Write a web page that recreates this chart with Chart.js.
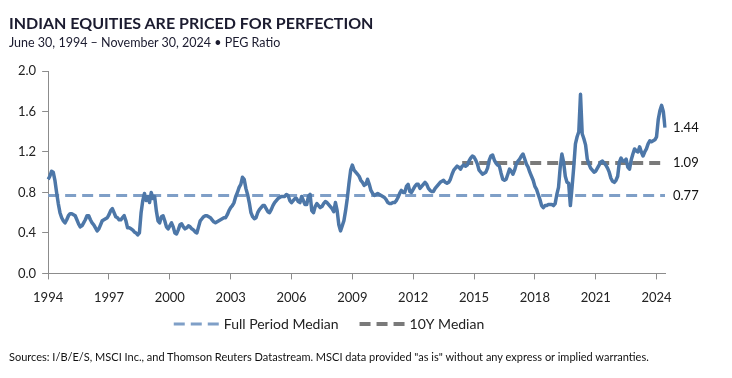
<!DOCTYPE html>
<html>
<head>
<meta charset="utf-8">
<script src="https://cdn.jsdelivr.net/npm/chart.js@4.4.1/dist/chart.umd.min.js"></script>
<style>
  body { margin: 0; background: #fff; width: 732px; height: 378px; overflow: hidden; position: relative; font-family: Lato, sans-serif; }
  #title { position: absolute; left: 9px; top: 13px; font-size: 16px; font-weight: bold; color: #1b1b2f; }
  #subtitle { position: absolute; left: 9px; top: 35px; font-size: 12.5px; color: #1b1b2f; }
  #source { position: absolute; left: 9px; top: 350px; font-size: 11px; color: #111; }
  #wrap { position: absolute; left: 0; top: 0; width: 732px; height: 378px; }
</style>
</head>
<body>
<div id="wrap"><canvas id="pegChart"></canvas></div>
<div id="title">INDIAN EQUITIES ARE PRICED FOR PERFECTION</div>
<div id="subtitle">June 30, 1994 – November 30, 2024 • PEG Ratio</div>
<div id="source">Sources: I/B/E/S, MSCI Inc., and Thomson Reuters Datastream. MSCI data provided "as is" without any express or implied warranties.</div>
<script>
// monthly PEG ratio, Jun 1994 .. Nov 2024
var pegValues = [
  0.93, 0.96, 1.01, 1.00, 0.92, 0.80, 0.69,                          // 1994 Jun-Dec
  0.60, 0.55, 0.52, 0.50, 0.53, 0.57, 0.59, 0.59, 0.58, 0.57, 0.53, 0.49, // 1995
  0.46, 0.47, 0.50, 0.53, 0.57, 0.57, 0.53, 0.50, 0.48, 0.45, 0.42, 0.44, // 1996
  0.48, 0.52, 0.53, 0.54, 0.55, 0.58, 0.62, 0.64, 0.60, 0.56, 0.55, 0.53, // 1997
  0.53, 0.55, 0.57, 0.52, 0.45, 0.45, 0.44, 0.43, 0.41, 0.40, 0.38, 0.40, // 1998
  0.60, 0.72, 0.79, 0.72, 0.76, 0.70, 0.80, 0.74, 0.76, 0.62, 0.52, 0.50, // 1999
  0.56, 0.57, 0.52, 0.46, 0.44, 0.47, 0.50, 0.46, 0.40, 0.39, 0.43, 0.48, // 2000
  0.49, 0.46, 0.44, 0.45, 0.47, 0.46, 0.44, 0.43, 0.41, 0.40, 0.46, 0.52, // 2001
  0.54, 0.56, 0.57, 0.57, 0.56, 0.55, 0.53, 0.51, 0.50, 0.51, 0.52, 0.53, // 2002
  0.54, 0.55, 0.55, 0.58, 0.62, 0.65, 0.67, 0.70, 0.76, 0.80, 0.85, 0.88, // 2003
  0.95, 0.93, 0.84, 0.78, 0.70, 0.60, 0.56, 0.54, 0.55, 0.60, 0.63, 0.65, // 2004
  0.67, 0.67, 0.64, 0.61, 0.60, 0.63, 0.67, 0.70, 0.72, 0.74, 0.75, 0.76, // 2005
  0.76, 0.76, 0.78, 0.77, 0.72, 0.70, 0.72, 0.74, 0.74, 0.71, 0.70, 0.76, // 2006
  0.72, 0.68, 0.68, 0.76, 0.78, 0.62, 0.60, 0.66, 0.69, 0.67, 0.65, 0.66, // 2007
  0.69, 0.71, 0.70, 0.68, 0.66, 0.64, 0.61, 0.70, 0.62, 0.48, 0.42, 0.47, // 2008
  0.52, 0.62, 0.74, 0.89, 1.02, 1.07, 1.02, 1.00, 0.98, 0.96, 0.92, 0.90, // 2009
  0.87, 0.88, 0.93, 0.88, 0.82, 0.79, 0.77, 0.78, 0.79, 0.78, 0.77, 0.76, // 2010
  0.75, 0.73, 0.70, 0.69, 0.69, 0.70, 0.70, 0.72, 0.75, 0.79, 0.82, 0.80, // 2011
  0.80, 0.86, 0.88, 0.81, 0.80, 0.83, 0.86, 0.88, 0.88, 0.84, 0.86, 0.88, // 2012
  0.90, 0.88, 0.84, 0.82, 0.81, 0.81, 0.84, 0.86, 0.88, 0.90, 0.91, 0.92, // 2013
  0.90, 0.89, 0.90, 0.93, 0.98, 1.02, 1.04, 1.06, 1.05, 1.03, 1.06, 1.07, // 2014
  1.06, 1.07, 1.11, 1.14, 1.16, 1.15, 1.12, 1.08, 1.02, 1.00, 0.98, 0.99, // 2015
  1.00, 1.04, 1.12, 1.16, 1.17, 1.12, 1.09, 1.07, 1.06, 0.99, 0.93, 0.92, // 2016
  0.93, 0.98, 1.03, 1.01, 0.98, 1.02, 1.08, 1.11, 1.13, 1.16, 1.18, 1.13, // 2017
  1.08, 1.05, 1.00, 0.96, 0.92, 0.86, 0.83, 0.78, 0.73, 0.67, 0.65, 0.67, // 2018
  0.67, 0.68, 0.68, 0.68, 0.67, 0.69, 0.78, 0.85, 1.05, 1.18, 1.10, 0.96, // 2019
  0.90, 0.89, 0.67, 0.85, 1.05, 1.28, 1.35, 1.40, 1.77, 1.38, 1.33, 1.27, // 2020
  1.13, 1.08, 1.04, 1.02, 1.00, 1.01, 1.04, 1.07, 1.10, 1.11, 1.09, 1.07, // 2021
  1.04, 1.00, 0.94, 0.91, 0.90, 0.92, 0.96, 1.10, 1.14, 1.11, 1.11, 1.13, // 2022
  1.05, 1.03, 1.12, 1.18, 1.23, 1.21, 1.20, 1.25, 1.20, 1.16, 1.20, 1.23, // 2023
  1.28, 1.31, 1.30, 1.31, 1.32, 1.35, 1.52, 1.61, 1.66, 1.60, 1.44        // 2024 Jan-Nov
];

var yearTicks = ['1994','1997','2000','2003','2006','2009','2012','2015','2018','2021','2024'];
var medianNames = ['Full Period Median', '10Y Median'];
var medianValues = [0.77, 1.09];
var medianFrom = ['1994-06', '2014-11'];
var lastLabel = '2024-11';

// month labels "YYYY-MM" starting Jun 1994
var months = [];
for (var i = 0; i < pegValues.length; i++) {
  var m = 5 + i;
  var y = 1994 + Math.floor(m / 12);
  var mm = (m % 12) + 1;
  months.push(y + '-' + (mm < 10 ? '0' + mm : mm));
}

var lineBlue = '#4d77a8';
var medBlue = '#7f9fc7';
var medGrey = '#7a7a7a';
var axisGrey = '#8c8c8c';
var labelFont = { family: 'Lato, sans-serif', size: 13 };

// value labels at the right end + dashed-line legend under the axis
var extras = {
  id: 'extras',
  afterDatasetsDraw: function(chart) {
    var ctx = chart.ctx, ys = chart.scales.y, x = chart.chartArea.right + 8;
    var vals = [pegValues[pegValues.length - 1]].concat(medianValues);
    ctx.save();
    ctx.font = '13px Lato, sans-serif';
    ctx.fillStyle = '#111';
    ctx.textBaseline = 'middle';
    vals.forEach(function(v) {
      ctx.fillText(v.toFixed(2), x, ys.getPixelForValue(v));
    });

    // legend
    var ds = chart.data.datasets;
    ctx.font = '14px Lato, sans-serif';
    var sw = 46, gap = 4, between = 21, ly = 324;
    var total = 0;
    medianNames.forEach(function(n, k) {
      total += sw + gap + ctx.measureText(n).width + (k ? 0 : between);
    });
    var lx = 329 - total / 2;
    medianNames.forEach(function(n, k) {
      ctx.beginPath();
      ctx.setLineDash(ds[k].borderDash);
      ctx.lineWidth = ds[k].borderWidth;
      ctx.strokeStyle = ds[k].borderColor;
      ctx.moveTo(lx, ly);
      ctx.lineTo(lx + sw, ly);
      ctx.stroke();
      ctx.setLineDash([]);
      ctx.fillStyle = '#222';
      ctx.fillText(n, lx + sw + gap, ly);
      lx += sw + gap + ctx.measureText(n).width + between;
    });
    ctx.restore();
  }
};

new Chart('pegChart', {
  type: 'line',
  data: {
    labels: months,
    datasets: [
      {
        label: medianNames[0],
        data: [{x: medianFrom[0], y: medianValues[0]}, {x: lastLabel, y: medianValues[0]}],
        borderColor: medBlue, borderWidth: 3, borderDash: [11, 6],
        pointRadius: 0, order: 3
      },
      {
        label: medianNames[1],
        data: [{x: medianFrom[1], y: medianValues[1]}, {x: lastLabel, y: medianValues[1]}],
        borderColor: medGrey, borderWidth: 4, borderDash: [11, 6],
        pointRadius: 0, order: 2
      },
      {
        label: 'PEG Ratio',
        data: pegValues,
        borderColor: lineBlue, borderWidth: 3.5, pointRadius: 0, tension: 0,
        borderJoinStyle: 'round', order: 1
      }
    ]
  },
  options: {
    responsive: true,
    maintainAspectRatio: false,
    animation: false,
    layout: { padding: { left: 12, top: 71, right: 67, bottom: 61 } },
    plugins: {
      title: { display: false },
      tooltip: { enabled: false },
      legend: { display: false }
    },
    scales: {
      x: {
        type: 'category',
        border: { color: axisGrey },
        grid: { drawOnChartArea: false, tickLength: 6, color: axisGrey },
        ticks: {
          autoSkip: false, maxRotation: 0, padding: 11, font: labelFont, color: '#222',
          callback: function(v, idx) {
            return idx % 36 === 0 ? yearTicks[idx / 36] : null;
          }
        }
      },
      y: {
        min: 0, max: 2,
        border: { color: axisGrey },
        grid: { drawOnChartArea: false, tickLength: 6, color: axisGrey },
        ticks: {
          stepSize: 0.4, padding: 6, font: labelFont, color: '#222',
          callback: function(v) { return v.toFixed(1); }
        }
      }
    }
  },
  plugins: [extras]
});
</script>
</body>
</html>
